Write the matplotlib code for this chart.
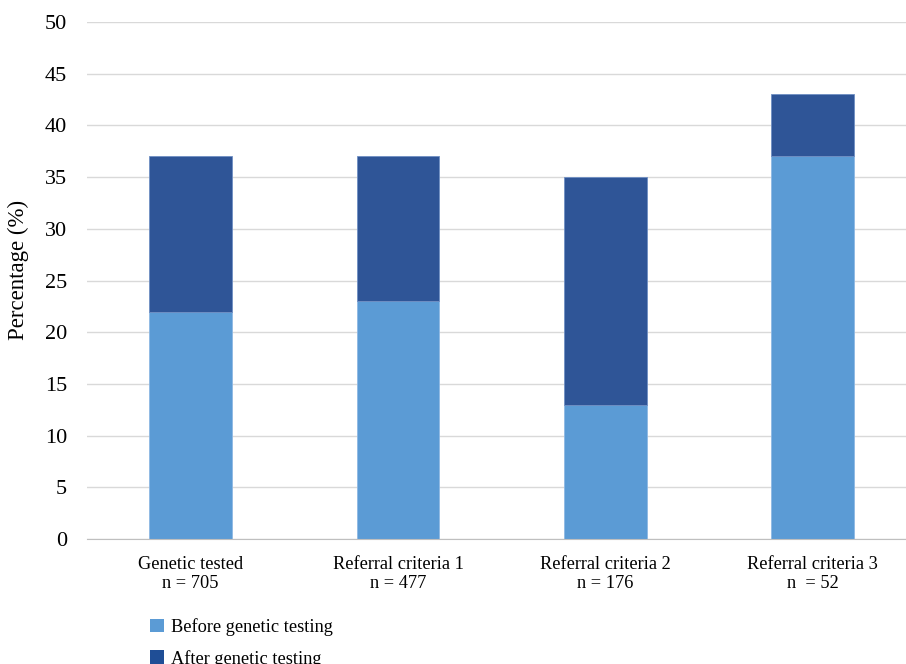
import matplotlib
matplotlib.use("Agg")
import matplotlib.pyplot as plt
from matplotlib.patches import Patch

categories = ["Genetic tested\nn = 705", "Referral criteria 1\nn = 477",
              "Referral criteria 2\nn = 176", "Referral criteria 3\nn  = 52"]
before = [22, 23, 13, 37]
after = [15, 14, 22, 6]
series_labels = ["Before genetic testing", "After genetic testing"]
yticks = [0, 5, 10, 15, 20, 25, 30, 35, 40, 45, 50]

plt.rcParams['font.family'] = ['Liberation Serif', 'DejaVu Serif']

W, H = 906, 664
fig = plt.figure(figsize=(W / 100, H / 100), dpi=100)
ax = fig.add_axes([87 / W, (H - 539) / H, (906 - 87) / W, (539 - 22) / H])

x = list(range(len(categories)))
c_before = "#5B9BD5"
c_after = "#2F5597"
ax.bar(x, before, width=0.4, color=c_before, edgecolor="#8DB8E4", linewidth=0.6, zorder=3)
ax.bar(x, after, width=0.4, bottom=before, color=c_after, edgecolor="#6F8FC4", linewidth=0.6, zorder=3)

ax.set_xlim(-0.5, 3.45)
ax.set_ylim(0, 50)
ax.set_yticks(yticks)
ax.set_xticks(x)
ax.set_xticklabels(categories, fontsize=13.2, linespacing=1.15)
ax.tick_params(axis='y', length=0, labelsize=16, pad=14.4)
ax.tick_params(axis='x', length=0, pad=12)
ax.grid(axis='y', color="#D9D9D9", linewidth=1, zorder=0)
for s in ["top", "right", "left"]:
    ax.spines[s].set_visible(False)
ax.spines["bottom"].set_color("#BFBFBF")
ax.spines["bottom"].set_zorder(4)
ax.set_ylabel("Percentage (%)", fontsize=16.5)
ax.yaxis.set_label_coords(-0.071, 0.52)

handles = [Patch(facecolor=c_before, edgecolor="none"), Patch(facecolor="#1F4E96", edgecolor="none")]
fig.legend(handles, series_labels, loc="upper left", bbox_to_anchor=(150 / W, 1 - 618 / H),
           frameon=False, fontsize=13.2, handlelength=0.75, handleheight=0.75,
           handletextpad=0.4, labelspacing=0.75, borderaxespad=0, borderpad=0)

fig.savefig("out.png", dpi=100)
